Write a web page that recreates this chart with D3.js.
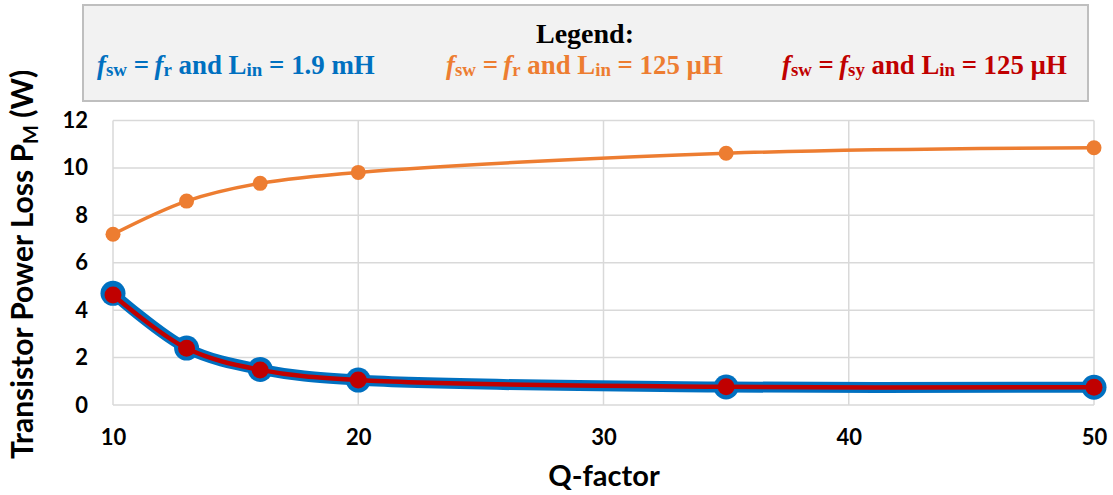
<!DOCTYPE html>
<html>
<head>
<meta charset="utf-8">
<script src="https://cdn.jsdelivr.net/npm/d3@7"></script>
<style>
  html, body { margin: 0; padding: 0; background: #ffffff; }
  svg { display: block; }
</style>
</head>
<body>
<svg id="chart" width="1113" height="495"></svg>
<script>
// Q-factor sweep points
const qFactor = [10, 13, 16, 20, 35, 50];

// Transistor power loss P_M (W) for each operating case
const lossBlue   = [4.71, 2.40, 1.50, 1.05, 0.76, 0.75];   // fsw = fr,  Lin = 1.9 mH
const lossOrange = [7.20, 8.60, 9.35, 9.81, 10.62, 10.85]; // fsw = fr,  Lin = 125 µH
const lossRed    = [4.64, 2.39, 1.48, 1.05, 0.77, 0.75];   // fsw = fsy, Lin = 125 µH

// axis ticks
const xTicks = [10, 20, 30, 40, 50];
const yTicks = [0, 2, 4, 6, 8, 10, 12];

const svg = d3.select("#chart");
const plot = { left: 113, right: 1094, top: 120.5, bottom: 405 };

const x = d3.scaleLinear().domain([10, 50]).range([plot.left, plot.right]);
const y = d3.scaleLinear().domain([0, 12]).range([plot.bottom, plot.top]);

const sansFont = "Lato, 'Open Sans', sans-serif";
const serifFont = "'Liberation Serif', 'Times New Roman', serif";

// gridlines
const grid = svg.append("g").attr("stroke", "#d9d9d9").attr("stroke-width", 1.5);
grid.selectAll("line.h").data(yTicks).join("line")
  .attr("x1", plot.left).attr("x2", plot.right)
  .attr("y1", d => y(d)).attr("y2", d => y(d));
grid.selectAll("line.v").data(xTicks).join("line")
  .attr("y1", plot.top).attr("y2", plot.bottom)
  .attr("x1", d => x(d)).attr("x2", d => x(d));

// axes (labels only)
const yAxis = svg.append("g")
  .attr("transform", `translate(${plot.left},0)`)
  .call(d3.axisLeft(y).tickValues(yTicks).tickSize(0).tickPadding(25).tickFormat(d3.format("d")));
const xAxis = svg.append("g")
  .attr("transform", `translate(0,${plot.bottom})`)
  .call(d3.axisBottom(x).tickValues(xTicks).tickSize(0).tickPadding(24).tickFormat(d3.format("d")));
[yAxis, xAxis].forEach(a => {
  a.select(".domain").remove();
  a.selectAll("text")
    .attr("font-family", sansFont)
    .attr("font-weight", 700)
    .attr("font-size", 22)
    .attr("fill", "#000");
});

// x-axis title
svg.append("text")
  .attr("x", 604)
  .attr("y", 486)
  .attr("text-anchor", "middle")
  .attr("font-family", sansFont)
  .attr("font-weight", 700)
  .attr("font-size", 29)
  .attr("fill", "#000")
  .text("Q-factor");

// y-axis title
const yTitle = svg.append("text")
  .attr("transform", "translate(33,459) rotate(-90)")
  .attr("font-family", sansFont)
  .attr("font-weight", 700)
  .attr("font-size", 30)
  .attr("fill", "#000");
yTitle.append("tspan").text("Transistor Power Loss P");
yTitle.append("tspan").attr("font-size", 20).attr("dy", 5).text("M");
yTitle.append("tspan").attr("dy", -5).text(" (W)");

// series
const pts = vals => qFactor.map((q, i) => [q, vals[i]]);
const smooth = d3.line().x(d => x(d[0])).y(d => y(d[1])).curve(d3.curveCatmullRom.alpha(0.5));

function drawSeries(vals, color, lineW, r) {
  const g = svg.append("g");
  g.append("path").datum(pts(vals))
    .attr("d", smooth)
    .attr("fill", "none")
    .attr("stroke", color)
    .attr("stroke-width", lineW)
    .attr("stroke-linejoin", "round");
  g.selectAll("circle").data(pts(vals)).join("circle")
    .attr("cx", d => x(d[0])).attr("cy", d => y(d[1]))
    .attr("r", r).attr("fill", color);
}
drawSeries(lossOrange, "#ed7d31", 3.5, 7.5);
drawSeries(lossBlue, "#0070c0", 11, 12.5);
drawSeries(lossRed, "#c00000", 4.5, 8.5);

// legend box
svg.append("rect")
  .attr("x", 83).attr("y", 5).attr("width", 1005).attr("height", 96)
  .attr("fill", "#f2f2f2").attr("stroke", "#bfbfbf").attr("stroke-width", 2);

svg.append("text")
  .attr("x", 585).attr("y", 43)
  .attr("text-anchor", "middle")
  .attr("font-family", serifFont)
  .attr("font-weight", 700)
  .attr("font-size", 28)
  .attr("fill", "#000")
  .text("Legend:");

const legendItems = [
  { x: 97,  right: 375,  color: "#0070c0", sub: "r",  value: "1.9 mH" },
  { x: 446, right: 723,  color: "#ed7d31", sub: "r",  value: "125 µH" },
  { x: 782, right: 1067, color: "#c00000", sub: "sy", value: "125 µH" }
];
legendItems.forEach(it => {
  const t = svg.append("text")
    .attr("x", it.x).attr("y", 74)
    .attr("font-family", serifFont)
    .attr("font-weight", 700)
    .attr("font-size", 27)
    .attr("fill", it.color);
  t.append("tspan").attr("font-style", "italic").text("f");
  t.append("tspan").attr("font-size", 19).attr("dy", 2).text("sw");
  t.append("tspan").attr("dy", -2).text(" =\u2009");
  t.append("tspan").attr("font-style", "italic").text("f");
  t.append("tspan").attr("font-size", 19).attr("dy", 2).text(it.sub);
  t.append("tspan").attr("dy", -2).text(" and L");
  t.append("tspan").attr("font-size", 19).attr("dy", 2).text("in");
  t.append("tspan").attr("dy", -2).text(" = " + it.value);
  // fit each entry to its slot width
  const w = t.node().getBBox().width;
  const sx = (it.right - it.x) / w;
  t.attr("transform", `translate(${it.x},0) scale(${sx},1) translate(${-it.x},0)`);
});
</script>
</body>
</html>
